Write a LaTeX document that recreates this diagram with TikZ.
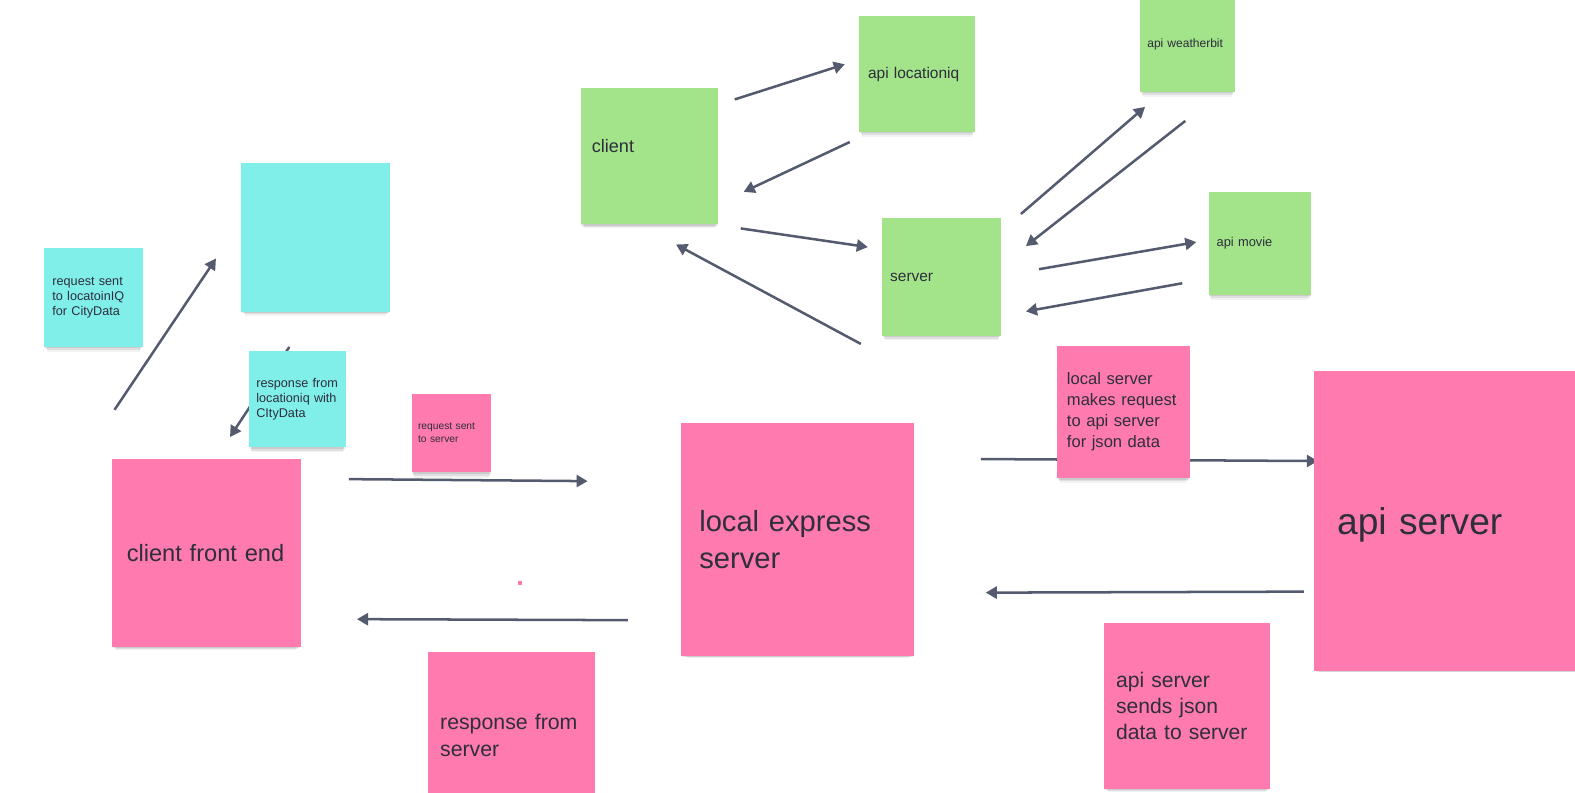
\documentclass[tikz,border=0pt]{standalone}
\usepackage{fontspec}
\setmainfont{Liberation Sans}
\usetikzlibrary{arrows.meta}
\usetikzlibrary{shadows}
\usetikzlibrary{backgrounds}

\definecolor{notecyan}{HTML}{80EFEA}
\definecolor{notegreen}{HTML}{A3E38A}
\definecolor{notepink}{HTML}{FF7AAE}
\definecolor{ink}{HTML}{2E2E3C}
\definecolor{arrowgray}{HTML}{545B6E}

\newcommand{\notefont}[2]{\fontsize{#1}{#2}\selectfont}

\tikzset{
    note/.style={rectangle
        , anchor=north west
        , align=left
        , text=ink
        , inner ysep=0pt
        , drop shadow={shadow xshift=0pt, shadow yshift=-2pt, shadow scale=0.99, opacity=0.09, fill=black}
        , drop shadow={shadow xshift=0pt, shadow yshift=-5pt, shadow scale=0.97, opacity=0.08, fill=black}
        , drop shadow={shadow xshift=0pt, shadow yshift=-8pt, shadow scale=0.95, opacity=0.05, fill=black}
    },
    flow/.style={draw=arrowgray
        , line width=2.5pt
        , -{Triangle[length=11pt, width=12pt]}
    }
}

\begin{document}
\begin{tikzpicture}[x=1pt, y=-1pt
    , every node/.style={}
    ]

    \clip (0,0) rectangle (1568,789);

    %% locationiq side, cyan notes
    \node[note, fill=notecyan, minimum height=98, text width=82, inner xsep=8
        , font=\notefont{12.6}{15}] (reqcity) at (44,247)
        {request sent\\to locatoinIQ\\for CityData};
    \node[note, fill=notecyan, minimum height=148, text width=140, inner xsep=4] (lociq) at (240,162) {};
    \node[note, fill=notecyan, minimum height=96, text width=82, inner xsep=7
        , font=\notefont{12.6}{15}] (respcity) at (248,349)
        {response from\\locationiq with\\CItyData};

    %% pink notes
    \node[note, fill=notepink, minimum height=187, text width=158, inner xsep=15
        , font=\notefont{23.5}{28}] (cfe) at (111,457) {client front end};
    \node[note, fill=notepink, minimum height=78, text width=67, inner xsep=6
        , font=\notefont{10.2}{13}] (reqsrv) at (410,392) {request sent\\to server};
    \node[note, fill=notepink, minimum height=232, text width=196, inner xsep=18
        , font=\notefont{29}{37}] (express) at (678,421) {local express\\server};
    \node[note, fill=notepink, minimum height=166, text width=142, inner xsep=12
        , font=\notefont{21.2}{27}] (respsrv) at (426,649) {response from\\server};
    \node[note, fill=notepink, minimum height=132, text width=112, inner xsep=10
        , font=\notefont{16.5}{21}] (makesreq) at (1052,344)
        {local server\\makes request\\to api server\\for json data};
    \node[note, fill=notepink, minimum height=299, text width=253, inner xsep=23
        , font=\notefont{37}{44}, text depth=0pt] (apisrv) at (1308,369) {api server};
    \node[note, fill=notepink, minimum height=165, text width=141, inner xsep=12
        , font=\notefont{21}{26}] (sendsjson) at (1099,620)
        {api server\\sends json\\data to server};
    \fill[notepink] (516,578) rectangle (520,582);

    %% green notes
    \node[note, fill=notegreen, minimum height=136, text width=115, inner xsep=11
        , font=\notefont{18}{22}, text depth=20pt] (client) at (578,87) {client};
    \node[note, fill=notegreen, minimum height=115, text width=97, inner xsep=9
        , font=\notefont{15.4}{19}] (apiloc) at (855,16) {api locationiq};
    \node[note, fill=notegreen, minimum height=117, text width=102, inner xsep=8
        , font=\notefont{15.4}{19}] (server) at (878,217) {server};
    \node[note, fill=notegreen, minimum height=94, text width=80, inner xsep=7
        , font=\notefont{12}{15}] (weather) at (1135,-3) {api weatherbit};
    \node[note, fill=notegreen, minimum height=102, text width=86, inner xsep=8
        , font=\notefont{12.8}{15}] (movie) at (1203,191) {api movie};

    % Now draw the arrows, under the notes
    \begin{scope}[on background layer]
        \fill[white] (0,0) rectangle (1568,789);

        \draw[flow] ([shift={(3,-49)}]cfe.north west) -- ([shift={(-25,-53)}]lociq.south west);
        \draw[flow] ([shift={(48,35)}]lociq.south west) -- ([shift={(118,-22)}]cfe.north west);
        \draw[flow] ([shift={(48,20)}]cfe.north east) -- ([shift={(-93,58)}]express.north west);
        \draw[flow] ([shift={(-53,-36)}]express.south west) -- ([shift={(56,-28)}]cfe.south east);
        \draw[flow] ([shift={(66,36)}]express.north east) -- ([shift={(4,90)}]apisrv.north west);
        \draw[flow] ([shift={(-10,220)}]apisrv.north west) -- ([shift={(71,169)}]express.north east);

        %% client / server / apis
        \draw[flow] ([shift={(16,12)}]client.north east) -- ([shift={(-14,48)}]apiloc.north west);
        \draw[flow] ([shift={(-9,10)}]apiloc.south west) -- ([shift={(25,104)}]client.north east);
        \draw[flow] ([shift={(22,4)}]client.south east) -- ([shift={(-14,29)}]server.north west);
        \draw[flow] ([shift={(-21,8)}]server.south west) -- ([shift={(95,20)}]client.south west);
        \draw[flow] ([shift={(20,-4)}]server.north east) -- ([shift={(5,15)}]weather.south west);
        \draw[flow] ([shift={(45,29)}]weather.south west) -- ([shift={(25,28)}]server.north east);
        \draw[flow] ([shift={(38,51)}]server.north east) -- ([shift={(-12,50)}]movie.north west);
        \draw[flow] ([shift={(-26,91)}]movie.north west) -- ([shift={(25,93)}]server.north east);
    \end{scope}

\end{tikzpicture}
\end{document}
